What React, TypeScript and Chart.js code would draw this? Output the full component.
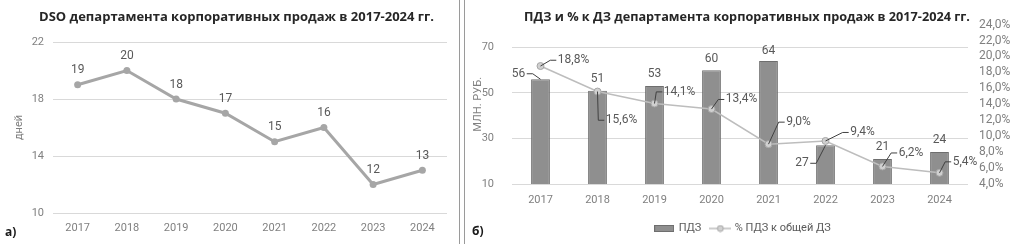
import { useEffect, useRef } from "react";
import { Chart, registerables } from "chart.js";

Chart.register(...registerables);

const years = ["2017", "2018", "2019", "2020", "2021", "2022", "2023", "2024"];
const dsoDays = [19, 20, 18, 17, 15, 16, 12, 13];
const dsoTicks = [10, 14, 18, 22];
const overdueMln = [56, 51, 53, 60, 64, 27, 21, 24];
const overdueShare = [18.8, 15.6, 14.1, 13.4, 9.0, 9.4, 6.2, 5.4];
const mlnTicks = [10, 30, 50, 70];
const shareTicks = [4, 6, 8, 10, 12, 14, 16, 18, 20, 22, 24];

const leftTitle = "DSO департамента корпоративных продаж в 2017-2024 гг.";
const rightTitle = "ПДЗ и % к ДЗ департамента корпоративных продаж в 2017-2024 гг.";
const leftAxisTitle = "дней";
const rightAxisTitle = "МЛН. РУБ.";
const legendBar = "ПДЗ";
const legendLine = "% ПДЗ к общей ДЗ";

// callout placement: [dx, dy, leader] in px relative to the mark's anchor
const barCallouts: [number, number, boolean][] = [
  [-22, -5.5, true], [0, -12, false], [0, -12, false], [0, -11, false],
  [0, -10, false], [-23.5, 18, true], [0, -11.5, false], [0, -12.5, false],
];
const shareCallouts: [number, number, boolean][] = [
  [33, -5.8, true], [24, 28.7, true], [25, -11.6, true], [30, -9.6, true],
  [30, -22, true], [37, -8.5, true], [28.5, -13.5, true], [25.5, -11, true],
];

const SANS = "Roboto, 'Liberation Sans', sans-serif";
const TITLE_FONT = "'Open Sans', 'DejaVu Sans', sans-serif";
const TICK_COLOR = "#808080";
const LABEL_COLOR = "#595959";
const GRID = "#d9d9d9";

const fmtPct = (v: number) => v.toFixed(1).replace(".", ",") + "%";

function panelText(title: string, tx: number, ty: number, size: number, tag: string, gx: number, gy: number) {
  return {
    id: "panelText",
    afterDraw(chart: any) {
      const ctx = chart.ctx as CanvasRenderingContext2D;
      ctx.save();
      ctx.fillStyle = "#262626";
      ctx.font = `bold ${size}px ${TITLE_FONT}`;
      ctx.textAlign = "center";
      ctx.textBaseline = "middle";
      ctx.fillText(title, tx, ty);
      ctx.fillStyle = "#1a1a1a";
      ctx.font = `bold 12px ${TITLE_FONT}`;
      ctx.textAlign = "left";
      ctx.fillText(tag, gx, gy);
      ctx.restore();
    },
  };
}

const pointLabels = {
  id: "pointLabels",
  afterDatasetsDraw(chart: any) {
    const ctx = chart.ctx as CanvasRenderingContext2D;
    const meta = chart.getDatasetMeta(0);
    const data = chart.data.datasets[0].data as number[];
    ctx.save();
    ctx.font = `12px ${SANS}`;
    ctx.fillStyle = LABEL_COLOR;
    ctx.textAlign = "center";
    ctx.textBaseline = "middle";
    meta.data.forEach((el: any, i: number) => {
      ctx.fillText(String(data[i]), el.x, el.y - 14.5);
    });
    ctx.restore();
  },
};

function callouts(items: { ds: number; offsets: [number, number, boolean][]; fmt: (v: number) => string }[]) {
  return {
    id: "callouts",
    afterDatasetsDraw(chart: any) {
      const ctx = chart.ctx as CanvasRenderingContext2D;
      ctx.save();
      ctx.font = `12px ${SANS}`;
      ctx.textAlign = "center";
      ctx.textBaseline = "middle";
      items.forEach(({ ds, offsets, fmt }) => {
        const meta = chart.getDatasetMeta(ds);
        const data = chart.data.datasets[ds].data as number[];
        meta.data.forEach((el: any, i: number) => {
          const [dx, dy, leader] = offsets[i];
          const text = fmt(data[i]);
          const w = ctx.measureText(text).width;
          const lx = el.x + dx;
          const ly = el.y + dy;
          if (leader) {
            const edge = dx > 0 ? lx - w / 2 - 1.5 : lx + w / 2 + 1.5;
            const elbow = dx > 0 ? edge - 6 : edge + 6;
            ctx.beginPath();
            ctx.strokeStyle = "#404040";
            ctx.lineWidth = 1;
            ctx.moveTo(edge, ly);
            ctx.lineTo(elbow, ly);
            ctx.lineTo(el.x, el.y);
            ctx.stroke();
          }
          ctx.fillStyle = LABEL_COLOR;
          ctx.fillText(text, lx, ly);
        });
      });
      ctx.restore();
    },
  };
}

function makeSwatch(kind: "bar" | "line") {
  const c = document.createElement("canvas");
  if (kind === "bar") {
    c.width = 20;
    c.height = 7;
    const g = c.getContext("2d")!;
    g.fillStyle = "#8f8f8f";
    g.fillRect(0, 0, 20, 7);
    g.strokeStyle = "#6e6e6e";
    g.strokeRect(0.5, 0.5, 19, 6);
  } else {
    c.width = 22;
    c.height = 8;
    const g = c.getContext("2d")!;
    g.strokeStyle = "#bdbdbd";
    g.lineWidth = 1.5;
    g.beginPath();
    g.moveTo(0, 4);
    g.lineTo(22, 4);
    g.stroke();
    g.beginPath();
    g.arc(11, 4, 3, 0, Math.PI * 2);
    g.fillStyle = "#d0d0d0";
    g.fill();
    g.strokeStyle = "#a6a6a6";
    g.lineWidth = 1;
    g.stroke();
  }
  return c;
}

export default function App() {
  const leftRef = useRef<HTMLCanvasElement>(null);
  const rightRef = useRef<HTMLCanvasElement>(null);

  useEffect(() => {
    const charts: Chart[] = [];
    if (leftRef.current) {
      charts.push(
        new Chart(leftRef.current, {
          type: "line",
          data: {
            labels: years,
            datasets: [
              {
                data: dsoDays,
                borderColor: "#a6a6a6",
                backgroundColor: "#a6a6a6",
                borderWidth: 3,
                pointRadius: 3.5,
                pointBackgroundColor: "#a6a6a6",
                pointBorderWidth: 0,
                tension: 0,
              },
            ],
          },
          options: {
            responsive: false,
            animation: false,
            layout: { padding: { top: 42, right: 11, left: 0, bottom: 0 } },
            plugins: { legend: { display: false }, tooltip: { enabled: false }, title: { display: false } },
            scales: {
              x: {
                offset: true,
                grid: { display: false, drawTicks: false },
                border: { display: false },
                ticks: { color: TICK_COLOR, font: { family: SANS, size: 11 }, padding: 9 },
                afterFit: (s: any) => {
                  s.height = 31;
                },
              },
              y: {
                min: dsoTicks[0],
                max: dsoTicks[dsoTicks.length - 1],
                afterBuildTicks: (s: any) => {
                  s.ticks = dsoTicks.map((v) => ({ value: v }));
                },
                ticks: { color: TICK_COLOR, font: { family: SANS, size: 11 }, padding: 9, autoSkip: false },
                grid: { color: GRID, drawTicks: false },
                border: { display: false },
                title: {
                  display: true,
                  text: leftAxisTitle,
                  color: TICK_COLOR,
                  font: { family: SANS, size: 11 },
                  padding: { top: 13, bottom: 0 },
                },
                afterFit: (s: any) => {
                  s.width = 53;
                },
              },
            },
          },
          plugins: [panelText(leftTitle, 236.5, 17.5, 13, "а)", 5, 233), pointLabels],
        } as any)
      );
    }
    if (rightRef.current) {
      const barSw = makeSwatch("bar");
      const lineSw = makeSwatch("line");
      charts.push(
        new Chart(rightRef.current, {
          type: "bar",
          data: {
            labels: years,
            datasets: [
              {
                type: "bar",
                label: legendBar,
                data: overdueMln,
                yAxisID: "y",
                backgroundColor: "#8f8f8f",
                borderColor: "#6e6e6e",
                borderWidth: 1,
                categoryPercentage: 0.33,
                barPercentage: 1,
                order: 1,
              },
              {
                type: "line",
                label: legendLine,
                data: overdueShare,
                yAxisID: "y1",
                borderColor: "#bdbdbd",
                backgroundColor: "#d0d0d0",
                borderWidth: 1.5,
                pointRadius: 3.5,
                pointBackgroundColor: "#d0d0d0",
                pointBorderColor: "#a6a6a6",
                pointBorderWidth: 1,
                tension: 0,
                order: 0,
              },
            ],
          },
          options: {
            responsive: false,
            animation: false,
            layout: { padding: { top: 13, right: 0, left: 0, bottom: 0 } },
            plugins: {
              tooltip: { enabled: false },
              title: { display: false },
              legend: {
                display: true,
                position: "bottom",
                labels: {
                  usePointStyle: true,
                  pointStyleWidth: 18,
                  padding: 10,
                  color: LABEL_COLOR,
                  font: { family: SANS, size: 11 },
                  sort: (a: any, b: any) => a.datasetIndex - b.datasetIndex,
                  generateLabels: (chart: any) => {
                    const base = (Chart.defaults.plugins.legend.labels as any).generateLabels(chart);
                    return base.map((l: any) => ({ ...l, pointStyle: l.datasetIndex === 0 ? barSw : lineSw }));
                  },
                },
              },
            },
            scales: {
              x: {
                grid: { display: false, drawTicks: false },
                border: { display: false },
                ticks: { color: TICK_COLOR, font: { family: SANS, size: 11 }, padding: 10 },
                afterFit: (s: any) => {
                  const lh = s.chart.legend ? s.chart.legend.height : 0;
                  s.height = s.chart.height - 184 - lh;
                },
              },
              y: {
                position: "left",
                min: 10,
                max: 80,
                afterBuildTicks: (s: any) => {
                  s.ticks = mlnTicks.map((v) => ({ value: v }));
                },
                ticks: { color: TICK_COLOR, font: { family: SANS, size: 11 }, padding: 18, autoSkip: false },
                grid: { color: GRID, drawTicks: false },
                border: { display: false },
                title: {
                  display: true,
                  text: rightAxisTitle,
                  color: TICK_COLOR,
                  font: { family: SANS, size: 11 },
                  padding: { top: 5, bottom: 0 },
                },
                afterFit: (s: any) => {
                  s.width = 45;
                },
              },
              y1: {
                position: "right",
                min: shareTicks[0],
                max: shareTicks[shareTicks.length - 1],
                afterBuildTicks: (s: any) => {
                  s.ticks = shareTicks.map((v) => ({ value: v }));
                },
                ticks: {
                  color: TICK_COLOR,
                  font: { family: SANS, size: 12 },
                  padding: 11,
                  autoSkip: false,
                  callback: (v: any) => fmtPct(Number(v)),
                },
                grid: { display: false, drawTicks: false },
                border: { display: false },
                afterFit: (s: any) => {
                  s.width = 51;
                },
              },
            },
          },
          plugins: [
            panelText(rightTitle, 280, 17.5, 12.7, "б)", 5, 232),
            callouts([
              { ds: 0, offsets: barCallouts, fmt: (v) => String(v) },
              { ds: 1, offsets: shareCallouts, fmt: fmtPct },
            ]),
          ],
        } as any)
      );
    }
    return () => charts.forEach((c) => c.destroy());
  }, []);

  return (
    <div
      style={{
        position: "absolute",
        left: 0,
        top: 0,
        width: 1019,
        height: 244,
        background: "#fff",
        overflow: "hidden",
      }}
    >
      <canvas ref={leftRef} width={458} height={244} style={{ position: "absolute", left: 0, top: 0, width: 458, height: 244 }} />
      <div style={{ position: "absolute", left: 459, top: 0, width: 1, height: 244, background: "#9a9a9a" }} />
      <div style={{ position: "absolute", left: 464, top: 0, width: 1, height: 244, background: "#9a9a9a" }} />
      <canvas ref={rightRef} width={552} height={244} style={{ position: "absolute", left: 467, top: 0, width: 552, height: 244 }} />
    </div>
  );
}
